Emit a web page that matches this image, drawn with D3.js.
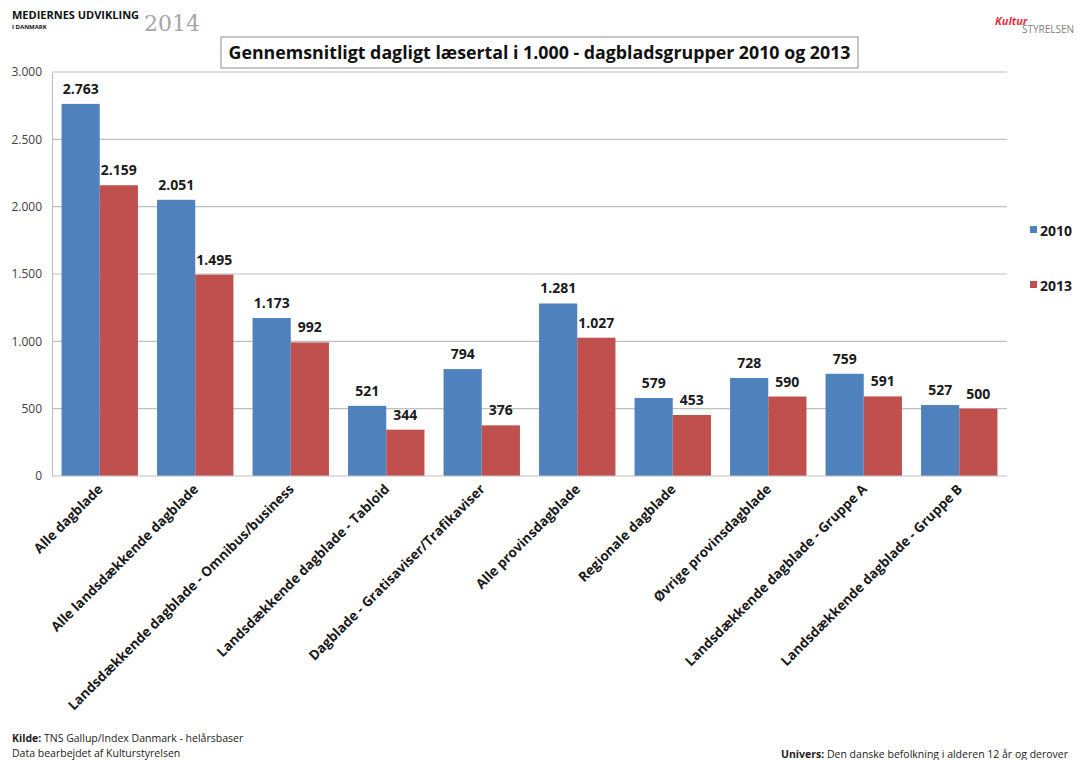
<!DOCTYPE html>
<html>
<head>
<meta charset="utf-8">
<script src="https://cdn.jsdelivr.net/npm/d3@7"></script>
<style>
  body { margin: 0; background: #fff; }
  svg { font-family: "Open Sans", "Liberation Sans", sans-serif; }
</style>
</head>
<body>
<script>
// data
const categories = [
  "Alle dagblade",
  "Alle landsdækkende dagblade",
  "Landsdækkende dagblade - Omnibus/business",
  "Landsdækkende dagblade - Tabloid",
  "Dagblade - Gratisaviser/Trafikaviser",
  "Alle provinsdagblade",
  "Regionale dagblade",
  "Øvrige provinsdagblade",
  "Landsdækkende dagblade - Gruppe A",
  "Landsdækkende dagblade - Gruppe B"
];
const values2010 = [2763, 2051, 1173, 521, 794, 1281, 579, 728, 759, 527];
const values2013 = [2159, 1495, 992, 344, 376, 1027, 453, 590, 591, 500];
const seriesNames = ["2010", "2013"];
const yTicks = [0, 500, 1000, 1500, 2000, 2500, 3000];

const colors = ["#4f81bd", "#c0504d"];
const W = 1077, H = 760;
const margin = {left: 52, right: 70, top: 72, bottom: 284};

const fmt = d => d3.format(",")(d).replace(/,/g, ".");

const svg = d3.select("body").append("svg")
    .attr("width", W)
    .attr("height", H);

const x = d3.scaleBand()
    .domain(categories)
    .range([margin.left, W - margin.right])
    .paddingInner(0.2)
    .paddingOuter(0.1);

const xs = d3.scaleBand()
    .domain(seriesNames)
    .range([0, x.bandwidth()]);

const y = d3.scaleLinear()
    .domain([0, 3000])
    .range([H - margin.bottom, margin.top]);

// gridlines
svg.append("g")
    .selectAll("line")
    .data(yTicks.slice(1))
    .join("line")
    .attr("x1", margin.left)
    .attr("x2", W - margin.right)
    .attr("y1", d => y(d))
    .attr("y2", d => y(d))
    .attr("stroke", "#bfbfbf")
    .attr("stroke-width", 1.2);

// y axis
const yAxis = svg.append("g")
    .attr("transform", `translate(${margin.left},0)`)
    .call(d3.axisLeft(y).tickValues(yTicks).tickFormat(fmt).tickSize(0).tickPadding(10));
yAxis.select(".domain").attr("stroke", "#bfbfbf").attr("stroke-width", 1.2);
yAxis.selectAll("text")
    .attr("font-size", 12)
    .attr("fill", "#404040")
    .attr("font-family", "Open Sans, sans-serif");

// bars
const rows = categories.map((c, i) => ({cat: c, vals: [values2010[i], values2013[i]]}));

const groups = svg.append("g")
    .selectAll("g")
    .data(rows)
    .join("g")
    .attr("transform", d => `translate(${x(d.cat)},0)`);

groups.selectAll("rect")
    .data(d => d.vals.map((v, j) => ({s: seriesNames[j], v, j})))
    .join("rect")
    .attr("x", d => xs(d.s))
    .attr("width", xs.bandwidth())
    .attr("y", d => y(d.v))
    .attr("height", d => y(0) - y(d.v))
    .attr("fill", d => colors[d.j]);

groups.selectAll("text.lbl")
    .data(d => d.vals.map((v, j) => ({s: seriesNames[j], v, j})))
    .join("text")
    .attr("class", "lbl")
    .attr("x", d => xs(d.s) + xs.bandwidth() / 2)
    .attr("y", d => y(d.v) - 10)
    .attr("text-anchor", "middle")
    .attr("font-size", 14)
    .attr("font-weight", "bold")
    .attr("fill", "#1a1a1a")
    .text(d => fmt(d.v));

// x axis
svg.append("line")
    .attr("x1", margin.left)
    .attr("x2", W - margin.right)
    .attr("y1", y(0))
    .attr("y2", y(0))
    .attr("stroke", "#bfbfbf")
    .attr("stroke-width", 1.2);

svg.append("g")
    .selectAll("text")
    .data(categories)
    .join("text")
    .attr("transform", d => `translate(${x(d) + x.bandwidth() / 2 + 4},${y(0) + 14}) rotate(-45)`)
    .attr("text-anchor", "end")
    .attr("font-size", 13.5)
    .attr("font-weight", "bold")
    .attr("fill", "#1a1a1a")
    .text(d => d);

// legend
const legend = svg.append("g")
    .selectAll("g")
    .data(seriesNames)
    .join("g")
    .attr("transform", (d, i) => `translate(1030,${231 + i * 55})`);
legend.append("rect")
    .attr("x", 0).attr("y", -5)
    .attr("width", 7).attr("height", 7)
    .attr("fill", (d, i) => colors[i]);
legend.append("text")
    .attr("x", 10).attr("y", 5)
    .attr("font-size", 14)
    .attr("font-weight", "bold")
    .attr("fill", "#1a1a1a")
    .text(d => d);

// title box
svg.append("rect")
    .attr("x", 221).attr("y", 37)
    .attr("width", 637).attr("height", 31)
    .attr("fill", "#fff")
    .attr("stroke", "#8c8c8c");
svg.append("text")
    .attr("x", 539.5).attr("y", 59)
    .attr("text-anchor", "middle")
    .attr("font-size", 17.8)
    .attr("font-weight", "bold")
    .attr("fill", "#111")
    .text("Gennemsnitligt dagligt læsertal i 1.000 - dagbladsgrupper 2010 og 2013");

// header
svg.append("text")
    .attr("x", 12).attr("y", 19)
    .attr("font-size", 11)
    .attr("font-weight", "bold")
    .attr("fill", "#111")
    .text("MEDIERNES UDVIKLING");
svg.append("text")
    .attr("x", 12).attr("y", 29)
    .attr("font-size", 6)
    .attr("font-weight", "bold")
    .attr("fill", "#111")
    .text("I DANMARK");
svg.append("text")
    .attr("x", 144).attr("y", 31)
    .attr("font-size", 22)
    .attr("font-family", "DejaVu Serif, serif")
    .attr("fill", "#a6a6a6")
    .text("2014");
svg.append("text")
    .attr("x", 995).attr("y", 25)
    .attr("font-size", 11)
    .attr("font-style", "italic")
    .attr("font-weight", "bold")
    .attr("fill", "#e8303a")
    .text("Kultur");
svg.append("text")
    .attr("x", 1022).attr("y", 33)
    .attr("font-size", 10)
    .attr("fill", "#7f7f7f")
    .text("STYRELSEN");

// footer
const foot = svg.append("g")
    .attr("font-size", 10.5)
    .attr("fill", "#222");
const k = foot.append("text").attr("x", 12).attr("y", 742);
k.append("tspan").attr("font-weight", "bold").text("Kilde: ");
k.append("tspan").text("TNS Gallup/Index Danmark - helårsbaser");
foot.append("text").attr("x", 12).attr("y", 757).text("Data bearbejdet af Kulturstyrelsen");
const u = foot.append("text").attr("x", 781).attr("y", 758);
u.append("tspan").attr("font-weight", "bold").text("Univers: ");
u.append("tspan").text(" Den danske befolkning i alderen 12 år og derover");
</script>
</body>
</html>
